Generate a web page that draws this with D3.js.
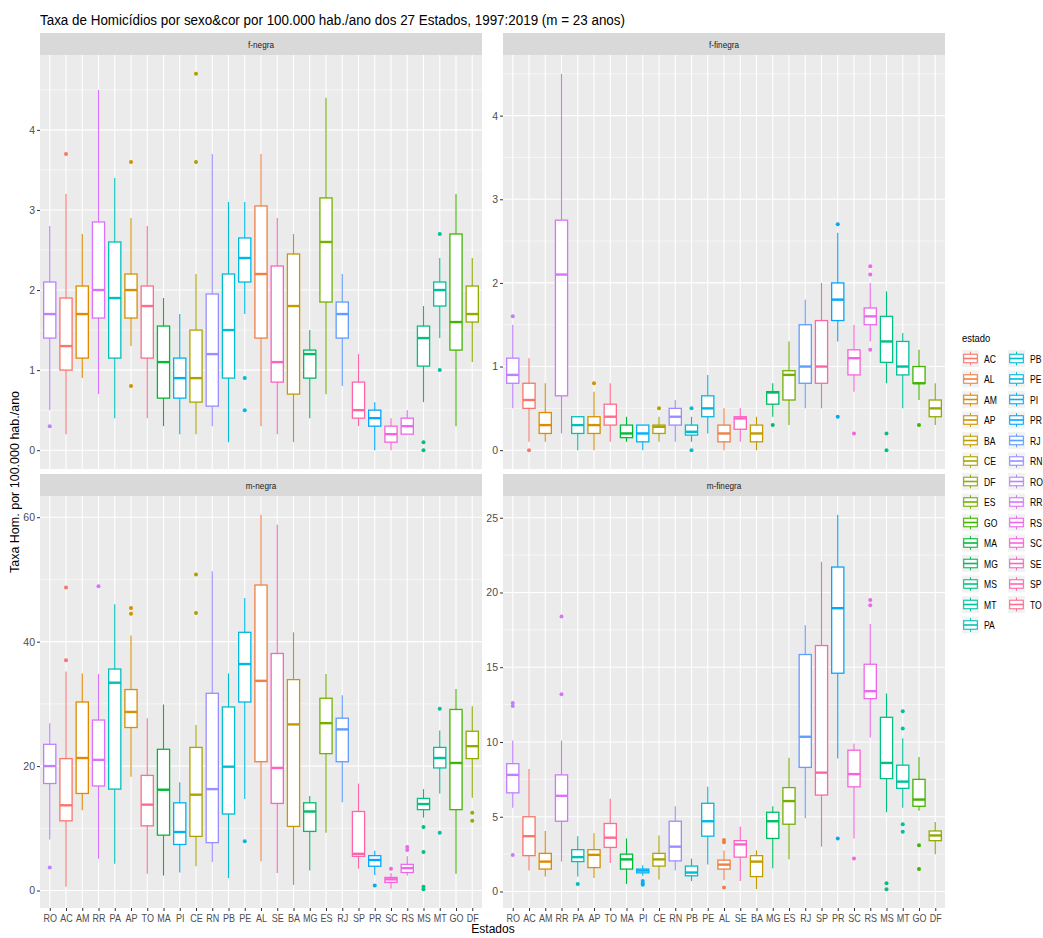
<!DOCTYPE html>
<html>
<head>
<meta charset="utf-8">
<script src="https://cdn.jsdelivr.net/npm/d3@7"></script>
<style>
  body { margin: 0; background: #fff; }
  text { font-family: "Liberation Sans", Arial, sans-serif; }
</style>
</head>
<body>
<div id="chart"></div>
<script>
// x order of the states in every panel
const estados = ["RO","AC","AM","RR","PA","AP","TO","MA","PI","CE","RN","PB","PE","AL",
                 "SE","BA","MG","ES","RJ","SP","PR","SC","RS","MS","MT","GO","DF"];
// legend / colour order (alphabetical factor levels)
const niveis = estados.slice().sort();

// [lower whisker, q1, median, q3, upper whisker] per state, same order as estados
const fNegra = [
  [0.5,1.4,1.7,2.1,2.8],[0.2,1.0,1.3,1.9,3.2],[0.9,1.15,1.7,2.05,2.7],[0.7,1.65,2.0,2.85,4.5],
  [0.4,1.15,1.9,2.6,3.4],[1.3,1.65,2.0,2.2,2.9],[0.4,1.15,1.8,2.05,2.8],[0.3,0.65,1.1,1.55,1.9],
  [0.2,0.65,0.9,1.15,1.7],[0.2,0.6,0.9,1.5,2.2],[0.3,0.55,1.2,1.95,3.7],[0.1,0.9,1.5,2.2,3.1],
  [1.7,2.1,2.4,2.65,3.1],[0.3,1.4,2.2,3.05,3.7],[0.2,0.85,1.1,2.3,2.9],[0.1,0.7,1.8,2.45,2.7],
  [0.4,0.9,1.2,1.25,1.5],[0.7,1.85,2.6,3.15,4.4],[0.8,1.4,1.7,1.85,2.2],[0.3,0.4,0.5,0.85,1.2],
  [0.0,0.3,0.4,0.5,0.6],[0.0,0.1,0.2,0.3,0.4],[0.2,0.2,0.3,0.4,0.5],[0.6,1.05,1.4,1.55,1.8],
  [1.4,1.8,2.0,2.1,2.4],[0.3,1.25,1.6,2.7,3.2],[1.1,1.6,1.7,2.05,2.4]
];
const fNegraOut = [[0.3],[3.7],[],[],[],[3.6,0.8],[],[],[],[4.7,3.6],[],[],[0.9,0.5],[],
  [],[],[],[],[],[],[],[],[],[0.1,0.0],[2.7,1.0],[],[]];

const fFinegra = [
  [0.5,0.8,0.9,1.1,1.5],[0.1,0.5,0.6,0.8,1.1],[0.1,0.2,0.3,0.45,0.8],[0.2,0.65,2.1,2.75,4.5],
  [0.0,0.2,0.3,0.4,0.4],[0.0,0.2,0.3,0.4,0.7],[0.1,0.3,0.4,0.55,0.8],[0.1,0.15,0.2,0.3,0.4],
  [0.0,0.1,0.2,0.3,0.3],[0.1,0.2,0.28,0.3,0.4],[0.1,0.3,0.4,0.5,0.6],[0.1,0.18,0.22,0.3,0.4],
  [0.2,0.4,0.5,0.65,0.9],[0.0,0.1,0.2,0.3,0.5],[0.1,0.25,0.38,0.4,0.5],[0.0,0.1,0.2,0.3,0.4],
  [0.4,0.55,0.69,0.7,0.8],[0.3,0.6,0.9,0.95,1.3],[0.5,0.8,1.0,1.5,1.8],[0.5,0.8,1.0,1.55,2.0],
  [1.3,1.55,1.8,2.0,2.6],[0.7,0.9,1.1,1.2,1.5],[1.3,1.5,1.6,1.7,2.0],[0.8,1.05,1.3,1.6,1.9],
  [0.5,0.9,1.0,1.3,1.4],[0.6,0.8,0.8,1.0,1.2],[0.3,0.4,0.5,0.6,0.8]
];
const fFinegraOut = [[1.6],[0.0],[],[],[],[0.8],[],[],[],[0.5],[],[0.5,0.0],[],[],
  [],[],[0.3],[],[],[],[2.7,0.4],[0.2],[2.2,2.1,1.2],[0.2,0.0],[],[0.3],[]];

const mNegra = [
  [8.2,17.2,20.0,23.5,26.9],[0.6,11.2,13.7,21.2,35.2],[12.9,15.6,21.3,30.3,34.9],[5.1,16.8,21.0,27.4,34.8],
  [4.3,16.3,33.4,35.6,46.0],[18.3,26.2,28.7,32.3,41.0],[2.7,10.4,13.8,18.5,27.7],[2.4,8.9,16.2,22.7,29.9],
  [2.9,7.4,9.4,14.1,17.4],[3.9,8.7,15.4,23.0,26.6],[4.6,7.7,16.3,31.7,51.3],[2.0,12.3,19.9,29.5,34.9],
  [14.7,30.3,36.4,41.5,47.0],[4.7,20.7,33.7,49.1,60.4],[2.8,14.0,19.7,38.1,58.8],[0.9,10.3,26.7,33.9,41.5],
  [3.2,9.5,12.7,14.1,15.2],[9.3,22.0,26.9,30.9,34.8],[14.2,20.7,25.9,27.7,31.4],[3.5,5.5,5.9,12.7,17.2],
  [2.5,3.9,4.9,5.6,6.4],[0.3,1.3,1.8,2.1,2.8],[2.4,2.9,3.6,4.2,5.5],[11.7,13.0,13.9,14.8,16.3],
  [15.6,19.7,21.3,23.0,25.7],[2.7,13.0,20.5,29.1,32.4],[14.9,21.2,23.2,25.6,29.6]
];
const mNegraOut = [[3.7],[48.7,37.0],[],[48.9],[],[45.4,44.5],[],[],[],[50.8,44.6],[],[],[7.9],[],
  [],[],[],[],[],[],[0.8],[3.5],[7.0,6.5],[10.2,6.2,0.6,0.2],[29.2,9.3],[],[12.5,11.2]];

const mFinegra = [
  [5.6,6.6,7.8,8.55,10.1],[1.4,2.4,3.7,5.0,8.2],[1.0,1.5,2.0,2.55,4.05],[2.0,4.7,6.4,7.8,10.1],
  [1.0,2.0,2.3,2.8,3.7],[0.9,1.6,2.45,2.8,3.9],[1.9,2.95,3.6,4.55,6.2],[0.5,1.5,2.15,2.5,3.55],
  [1.05,1.25,1.4,1.5,1.75],[0.8,1.7,2.15,2.55,3.75],[1.4,2.05,3.0,4.7,5.7],[0.7,1.05,1.27,1.7,2.2],
  [1.8,3.7,4.7,5.9,7.0],[0.75,1.5,1.8,2.1,2.75],[0.7,2.3,3.15,3.4,4.35],[0.15,1.0,2.0,2.4,2.75],
  [1.55,3.55,4.7,5.3,5.7],[2.15,4.5,6.05,6.95,8.95],[4.9,8.3,10.35,15.85,17.8],[3.0,6.45,7.95,16.45,22.05],
  [8.9,14.6,18.95,21.7,25.2],[3.55,7.0,7.85,9.45,9.9],[10.3,12.9,13.4,15.2,17.9],[5.3,7.55,8.6,11.65,13.25],
  [5.6,6.9,7.35,8.45,10.25],[5.4,5.7,6.15,7.5,9.0],[2.5,3.4,3.75,4.05,4.65]
];
const mFinegraOut = [[12.6,12.4,2.45],[],[],[18.4,13.2],[0.5],[],[],[],[0.7,0.55,0.45],[],[],[],[],[3.45,3.3,0.27],
  [],[],[],[],[],[],[3.55],[2.2],[19.5,19.15],[0.55,0.15],[12.05,10.9,4.5,4.0],[3.1,1.5],[]];

// y tick labels per panel
const ticksTop = [0, 1, 2, 3, 4];
const ticksMNegra = [0, 20, 40, 60];
const ticksMFinegra = [0, 5, 10, 15, 20, 25];

const titulo = "Taxa de Homicídios por sexo&cor por 100.000 hab./ano dos 27 Estados, 1997:2019 (m = 23 anos)";

// ggplot2 hue palette: hcl(h, c = 100, l = 65) in polar CIE-LUV
function hclR(h, c, l) {
  const WY = 100, Wu = 0.1978398, Wv = 0.4683363;
  const hr = h * Math.PI / 180;
  const U = c * Math.cos(hr), V = c * Math.sin(hr);
  const Y = WY * (l > 7.999592 ? Math.pow((l + 16) / 116, 3) : l / 903.3);
  const u = U / (13 * l) + Wu, v = V / (13 * l) + Wv;
  const X = 9 * Y * u / (4 * v);
  const Z = -X / 3 - 5 * Y + 3 * Y / v;
  const g = t => t > 0.00304 ? 1.055 * Math.pow(t, 1 / 2.4) - 0.055 : 12.92 * t;
  const cl = t => Math.round(255 * Math.max(0, Math.min(1, g(t))));
  const r = cl((3.240479 * X - 1.537150 * Y - 0.498535 * Z) / WY);
  const gg = cl((-0.969256 * X + 1.875992 * Y + 0.041556 * Z) / WY);
  const b = cl((0.055648 * X - 0.204043 * Y + 1.057311 * Z) / WY);
  return d3.rgb(r, gg, b).formatHex();
}
const color = d3.scaleOrdinal()
  .domain(niveis)
  .range(niveis.map((d, i) => hclR(15 + 360 * i / niveis.length, 100, 65)));

const width = 1043, height = 938;
const narrow = "scale(0.86,1)";   // the reference font is a bit condensed
const svg = d3.select("#chart").append("svg")
  .attr("width", width).attr("height", height);

svg.append("text")
  .attr("x", 40).attr("y", 25)
  .attr("font-size", 14).attr("fill", "#000")
  .attr("textLength", 585).attr("lengthAdjust", "spacingAndGlyphs")
  .text(titulo);

const panels = [
  { name: "f-negra",   box: fNegra,   out: fNegraOut,   ticks: ticksTop,      x0: 40,  x1: 482, s0: 33,  y0: 55,  y1: 469 },
  { name: "f-finegra", box: fFinegra, out: fFinegraOut, ticks: ticksTop,      x0: 503, x1: 945, s0: 33,  y0: 55,  y1: 469 },
  { name: "m-negra",   box: mNegra,   out: mNegraOut,   ticks: ticksMNegra,   x0: 40,  x1: 482, s0: 474, y0: 496, y1: 908 },
  { name: "m-finegra", box: mFinegra, out: mFinegraOut, ticks: ticksMFinegra, x0: 503, x1: 945, s0: 474, y0: 496, y1: 908 }
];

panels.forEach((p, pi) => {
  const all = p.box.flat().concat(p.out.flat());
  const lo = d3.min(all), hi = d3.max(all), pad = (hi - lo) * 0.05;
  const y = d3.scaleLinear().domain([lo - pad, hi + pad]).range([p.y1, p.y0]);
  const x = d3.scalePoint().domain(estados).range([p.x0, p.x1]).padding(0.6);
  const bw = x.step() * 0.75;

  const g = svg.append("g");

  // strip
  g.append("rect").attr("x", p.x0).attr("y", p.s0)
    .attr("width", p.x1 - p.x0).attr("height", p.y0 - p.s0).attr("fill", "#D9D9D9");
  g.append("text")
    .attr("transform", `translate(${(p.x0 + p.x1) / 2},${(p.s0 + p.y0) / 2 + 3.5}) ${narrow}`)
    .attr("text-anchor", "middle").attr("font-size", 9.5).attr("fill", "#1A1A1A").text(p.name);

  // panel background + grid
  g.append("rect").attr("x", p.x0).attr("y", p.y0)
    .attr("width", p.x1 - p.x0).attr("height", p.y1 - p.y0).attr("fill", "#EBEBEB");
  const step = p.ticks[1] - p.ticks[0];
  const minors = d3.range(p.ticks[0] - step / 2, p.ticks[p.ticks.length - 1] + step, step)
    .filter(v => v > y.domain()[0] && v < y.domain()[1]);
  g.selectAll(".minor").data(minors).enter().append("line")
    .attr("x1", p.x0).attr("x2", p.x1).attr("y1", d => y(d)).attr("y2", d => y(d))
    .attr("stroke", "#fff").attr("stroke-width", 0.55);
  g.selectAll(".major").data(p.ticks).enter().append("line")
    .attr("x1", p.x0).attr("x2", p.x1).attr("y1", d => y(d)).attr("y2", d => y(d))
    .attr("stroke", "#fff").attr("stroke-width", 1.1);
  g.selectAll(".vgrid").data(estados).enter().append("line")
    .attr("x1", d => x(d)).attr("x2", d => x(d)).attr("y1", p.y0).attr("y2", p.y1)
    .attr("stroke", "#fff").attr("stroke-width", 1.1);

  // y axis
  const yAx = g.append("g").attr("transform", `translate(${p.x0},0)`)
    .call(d3.axisLeft(y).tickValues(p.ticks).tickSize(3).tickPadding(2).tickFormat(d3.format("d")));
  yAx.select(".domain").remove();
  yAx.selectAll("line").attr("stroke", "#333");
  yAx.selectAll("text").attr("fill", "#4D4D4D").attr("font-size", 10.5)
    .style("font-family", "'Liberation Sans', Arial, sans-serif");

  // x axis only on bottom row
  if (pi >= 2) {
    const xAx = g.append("g").attr("transform", `translate(0,${p.y1})`)
      .call(d3.axisBottom(x).tickSize(3).tickPadding(3));
    xAx.select(".domain").remove();
    xAx.selectAll("line").attr("stroke", "#333");
    xAx.selectAll("text").attr("fill", "#4D4D4D").attr("font-size", 11)
      .attr("transform", "scale(0.82,1)")
      .style("font-family", "'Liberation Sans', Arial, sans-serif");
  }

  // boxplots
  const boxes = g.selectAll(".bx").data(estados.map((e, i) => ({ e, s: p.box[i], o: p.out[i] })))
    .enter().append("g");
  boxes.append("line").attr("x1", d => x(d.e)).attr("x2", d => x(d.e))
    .attr("y1", d => y(d.s[3])).attr("y2", d => y(d.s[4]))
    .attr("stroke", d => color(d.e)).attr("stroke-width", 1.1);
  boxes.append("line").attr("x1", d => x(d.e)).attr("x2", d => x(d.e))
    .attr("y1", d => y(d.s[1])).attr("y2", d => y(d.s[0]))
    .attr("stroke", d => color(d.e)).attr("stroke-width", 1.1);
  boxes.append("rect")
    .attr("x", d => x(d.e) - bw / 2).attr("width", bw)
    .attr("y", d => y(d.s[3])).attr("height", d => y(d.s[1]) - y(d.s[3]))
    .attr("fill", "#fff").attr("stroke", d => color(d.e)).attr("stroke-width", 1.3);
  boxes.append("line")
    .attr("x1", d => x(d.e) - bw / 2).attr("x2", d => x(d.e) + bw / 2)
    .attr("y1", d => y(d.s[2])).attr("y2", d => y(d.s[2]))
    .attr("stroke", d => color(d.e)).attr("stroke-width", 2.4);
  boxes.selectAll("circle").data(d => d.o.map(v => ({ e: d.e, v }))).enter().append("circle")
    .attr("cx", d => x(d.e)).attr("cy", d => y(d.v)).attr("r", 2)
    .attr("fill", d => color(d.e));
});

// axis titles
svg.append("text").attr("x", 493).attr("y", 933)
  .attr("text-anchor", "middle").attr("font-size", 12).attr("fill", "#000").text("Estados");
svg.append("text").attr("transform", "translate(19,482) rotate(-90)")
  .attr("text-anchor", "middle").attr("font-size", 12.5).attr("fill", "#000")
  .text("Taxa Hom. por 100.000 hab./ano");

// legend
const leg = svg.append("g").attr("transform", "translate(962,330)");
leg.append("text").attr("transform", "translate(0,12) " + narrow)
  .attr("font-size", 11).attr("fill", "#000").text("estado");
const nrow = Math.ceil(niveis.length / 2);
const keys = leg.selectAll(".key").data(niveis).enter().append("g")
  .attr("transform", (d, i) => `translate(${Math.floor(i / nrow) * 46},${20 + (i % nrow) * 20.5})`);
keys.append("rect").attr("width", 17).attr("height", 17).attr("fill", "#F2F2F2");
keys.append("line").attr("x1", 8.5).attr("x2", 8.5).attr("y1", 1.7).attr("y2", 15.3)
  .attr("stroke", d => color(d)).attr("stroke-width", 1);
keys.append("rect").attr("x", 1.7).attr("y", 4.25).attr("width", 13.6).attr("height", 8.5)
  .attr("fill", "#fff").attr("stroke", d => color(d)).attr("stroke-width", 1.1);
keys.append("line").attr("x1", 1.7).attr("x2", 15.3).attr("y1", 8.5).attr("y2", 8.5)
  .attr("stroke", d => color(d)).attr("stroke-width", 1.6);
keys.append("text").attr("transform", "translate(22,12.5) " + narrow)
  .attr("font-size", 10).attr("fill", "#000")
  .text(d => d);
</script>
</body>
</html>
